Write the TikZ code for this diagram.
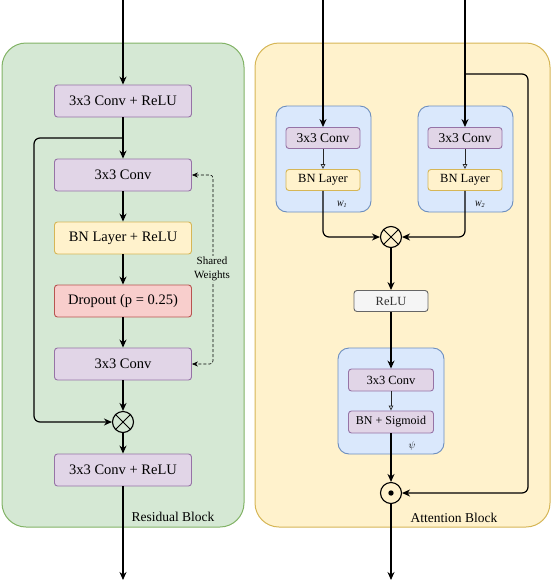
\documentclass[tikz,border=0pt]{standalone}
\usepackage{fontspec}
\setmainfont{Liberation Serif}
\usepackage{tikz}
\usetikzlibrary{positioning,arrows.meta,calc}
\definecolor{grnf}{HTML}{D5E8D4}
\definecolor{grnd}{HTML}{82B366}
\definecolor{ylwf}{HTML}{FFF2CC}
\definecolor{ylwd}{HTML}{D6B656}
\definecolor{bluf}{HTML}{DAE8FC}
\definecolor{blud}{HTML}{6C8EBF}
\definecolor{purf}{HTML}{E1D5E7}
\definecolor{purd}{HTML}{9673A6}
\definecolor{redf}{HTML}{F8CECC}
\definecolor{redd}{HTML}{B85450}
\definecolor{gryf}{HTML}{F5F5F5}
\definecolor{gryd}{HTML}{666666}
\newcommand{\crossop}[2]{%
  \node[opnode] (#1) at (#2) {};
  \draw[line width=1pt] (#1.45) -- (#1.225) (#1.135) -- (#1.315);}
\newcommand{\dotop}[2]{%
  \node[opnode] (#1) at (#2) {};
  \fill (#1.center) circle (2.7pt);}
\tikzset{
  panel/.style={draw=#1d,fill=#1f,line width=1pt,rounded corners=24pt},
  layer/.style={draw=#1d,fill=#1f,line width=0.9pt,rounded corners=3pt,
    minimum width=137pt,minimum height=32pt,inner sep=1pt,font=\fontsize{14.5}{16}\selectfont},
  sublayer/.style={layer=#1,minimum width=74pt,minimum height=21pt,font=\fontsize{12.5}{14}\selectfont},
  group/.style={draw=blud,fill=bluf,line width=0.9pt,rounded corners=11pt,minimum width=95pt,minimum height=106pt},
  opnode/.style={circle,draw,line width=1.1pt,minimum size=21pt,inner sep=0pt},
  flow/.style={line width=1.2pt,-{Stealth[length=8pt,width=7pt]}},
  link/.style={line width=0.7pt,draw=black!85,-{Triangle[open,length=5pt,width=4.5pt]}},
  shared/.style={densely dashed,line width=0.6pt,{Stealth[length=6pt,width=5pt]}-{Stealth[length=6pt,width=5pt]}},
  tag/.style={font=\fontsize{13.5}{15}\selectfont}
}
\begin{document}
\begin{tikzpicture}[x=1pt,y=-1pt]
\useasboundingbox (0,0) rectangle (552,582);
% ---- panels ----
\draw[panel=grn] (2,43) rectangle (244,527);
\draw[panel=ylw] (255,43) rectangle (550,527);
\node[tag,anchor=east] (resT) at (218,517) {Residual Block};
\node[tag] (attT) at (454,518) {Attention Block};
% ---- residual block ----
\node[layer=pur] (rc1) at (123,101) {3x3 Conv + ReLU};
\node[layer=pur] (rc2) at (123,175) {3x3 Conv};
\node[layer=ylw] (rbn) at (123,238) {BN Layer + ReLU};
\node[layer=red] (rdo) at (123,301) {Dropout (p = 0.25)};
\node[layer=pur] (rc3) at (123,364) {3x3 Conv};
\crossop{rmul}{123,422}
\node[layer=pur] (rc4) at (123,470) {3x3 Conv + ReLU};
\coordinate (rin) at (123,0);
\coordinate (rout) at (123,580);
\coordinate (rtap) at (123,138);
\draw[flow] (rin) -- (rc1);
\draw[flow] (rc1) -- (rc2);
\draw[flow] (rc2) -- (rbn);
\draw[flow] (rbn) -- (rdo);
\draw[flow] (rdo) -- (rc3);
\draw[flow] (rc3) -- (rmul);
\draw[flow] (rmul) -- (rc4);
\draw[flow] (rc4) -- (rout);
\draw[flow,rounded corners=6pt] (rtap) -- ++(-89,0) |- (rmul);
\draw[shared,rounded corners=3pt] (rc2.east) -- ++(21,0) |- (rc3.east);
\node[fill=grnf,inner sep=1pt,align=center,font=\fontsize{11}{14}\selectfont] (swt) at (212,269) {Shared\\Weights};
% ---- attention block ----
\node[group] (gw1) at (323.5,159) {};
\node[group] (gw2) at (465.5,159) {};
\node[group,minimum width=106pt] (gpsi) at (391,401) {};
\node[sublayer=pur,font=\fontsize{13.5}{15}\selectfont] (ac1) at (323,138) {3x3 Conv};
\node[sublayer=ylw] (abn1) at (323,180) {BN Layer};
\node[sublayer=pur,font=\fontsize{13.5}{15}\selectfont] (ac2) at (465,138) {3x3 Conv};
\node[sublayer=ylw] (abn2) at (465,180) {BN Layer};
\node[font=\fontsize{8}{9}\selectfont\itshape] (w1) at (342,204) {W\textsubscript{1}};
\node[font=\fontsize{8}{9}\selectfont\itshape] (w2) at (480,204) {W\textsubscript{2}};
\crossop{amul}{391,237}
\node[sublayer=gry,text=black!80] (arelu) at (391,301) {ReLU};
\node[sublayer=pur,minimum width=85pt,minimum height=22pt] (ac3) at (391,380) {3x3 Conv};
\node[sublayer=pur,minimum width=85pt,minimum height=22pt,font=\fontsize{12}{14}\selectfont] (asig) at (391,422) {BN + Sigmoid};
\node (psi) at (412,446) {$\psi$};
\dotop{adot}{391,493}
\coordinate (ain1) at (323,0);
\coordinate (ain2) at (465,0);
\coordinate (atap) at (465,74);
\coordinate (aout) at (391,580);
\draw[flow] (ain1) -- (ac1);
\draw[flow] (ain2) -- (ac2);
\draw[link] (ac1) -- (abn1);
\draw[link] (ac2) -- (abn2);
\draw[flow,rounded corners=6pt] (abn1.south) |- (amul.west);
\draw[flow,rounded corners=6pt] (abn2.south) |- (amul.east);
\draw[flow] (amul) -- (arelu);
\draw[flow] (arelu) -- (ac3);
\draw[link] (ac3) -- (asig);
\draw[flow] (asig) -- (adot);
\draw[flow,rounded corners=6pt] (atap) -- ++(63,0) |- (adot.east);
\draw[flow] (adot) -- (aout);
\end{tikzpicture}
\end{document}
